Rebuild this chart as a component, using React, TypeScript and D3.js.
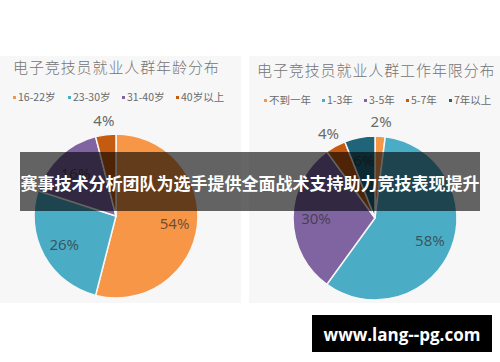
import React from "react";
import * as d3 from "d3";

const ageCategories = ["16-22岁", "23-30岁", "31-40岁", "40岁以上"];
const ageValues = [54, 26, 16, 4];
const ageColors = ["#F79646", "#4BACC6", "#8064A2", "#C55A11"];

const yearCategories = ["不到一年", "1-3年", "3-5年", "5-7年", "7年以上"];
const yearValues = [2, 58, 30, 4, 6];
const yearColors = ["#F79646", "#4BACC6", "#8064A2", "#C55A11", "#1F6478"];

const leftTitle = "电子竞技员就业人群年龄分布";
const rightTitle = "电子竞技员就业人群工作年限分布";
const bannerText = "赛事技术分析团队为选手提供全面战术支持助力竞技表现提升";
const watermark = "www.lang--pg.com";

const cjk = "'Noto Sans CJK SC', 'Noto Sans', sans-serif";

type PieProps = {
  x0: number;
  width: number;
  title: string;
  cats: string[];
  vals: number[];
  colors: string[];
  cx: number;
  cy: number;
  r: number;
  legendX: number[];
  legendY: number;
  titleX: number;
  titleY: number;
};

function PiePanel(p: PieProps) {
  const pie = d3.pie<number>().sort(null).value((d) => d).startAngle(0);
  const arcs = pie(p.vals);
  const arc = d3.arc<d3.PieArcDatum<number>>().innerRadius(0).outerRadius(p.r);
  const total = d3.sum(p.vals);
  return (
    <g>
      <rect x={p.x0} y={56} width={p.width} height={247} fill="#f7f7f7" />
      <text
        x={p.titleX}
        y={p.titleY}
        fontFamily={cjk}
        fontWeight={300}
        fontSize={15}
        letterSpacing={0.9}
        fill="#747474"
      >
        {p.title}
      </text>
      {p.cats.map((c, i) => (
        <g key={c}>
          <rect x={p.legendX[i]} y={p.legendY - 5} width={3} height={3} fill={p.colors[i]} />
          <text
            x={p.legendX[i] + 5}
            y={p.legendY}
            fontFamily={cjk}
            fontSize={10.5}
            fill="#6a6a6a"
          >
            {c}
          </text>
        </g>
      ))}
      <g transform={`translate(${p.cx},${p.cy})`}>
        {arcs.map((a, i) => (
          <path key={i} d={arc(a) || ""} fill={p.colors[i]} stroke="#f7f7f7" strokeWidth={1.5} />
        ))}
        {arcs.map((a, i) => {
          const small = a.value / total < 0.05;
          const rr = small ? p.r * 1.18 : p.r * 0.72;
          const mid = (a.startAngle + a.endAngle) / 2;
          const lx = Math.sin(mid) * rr;
          const ly = -Math.cos(mid) * rr;
          return (
            <text
              key={"l" + i}
              x={lx}
              y={ly}
              textAnchor="middle"
              dominantBaseline="central"
              fontFamily="'Noto Sans', sans-serif"
              fontSize={15}
              fill={small ? "#6a6a6a" : "#2f2f2f"}
              fillOpacity={small ? 1 : 0.7}
            >
              {d3.format(".0%")(a.value / total)}
            </text>
          );
        })}
      </g>
    </g>
  );
}

export default function App() {
  return (
    <svg
      width={500}
      height={362}
      style={{ position: "absolute", left: 0, top: 0, background: "#fff" }}
    >
      <rect width={500} height={362} fill="#fff" />
      <PiePanel
        x0={0}
        width={241}
        title={leftTitle}
        cats={ageCategories}
        vals={ageValues}
        colors={ageColors}
        cx={116}
        cy={216}
        r={82}
        legendX={[13, 68, 122, 176]}
        legendY={101}
        titleX={13}
        titleY={73}
      />
      <PiePanel
        x0={249}
        width={251}
        title={rightTitle}
        cats={yearCategories}
        vals={yearValues}
        colors={yearColors}
        cx={375}
        cy={218}
        r={82}
        legendX={[264, 322, 364, 406, 449]}
        legendY={104}
        titleX={257}
        titleY={76}
      />
      <rect x={20} y={152} width={460} height={59} fill="#000" fillOpacity={0.6} />
      <text
        x={250}
        y={182}
        textAnchor="middle"
        dominantBaseline="central"
        fontFamily={cjk}
        fontWeight={700}
        fontSize={17}
        fill="#fff"
      >
        {bannerText}
      </text>
      <rect x={312} y={315} width={180} height={37} fill="#000" />
      <text
        x={402}
        y={334}
        textAnchor="middle"
        dominantBaseline="central"
        fontFamily="'Open Sans', 'Noto Sans', sans-serif"
        fontWeight={700}
        fontSize={17}
        fill="#fff"
      >
        {watermark}
      </text>
    </svg>
  );
}
